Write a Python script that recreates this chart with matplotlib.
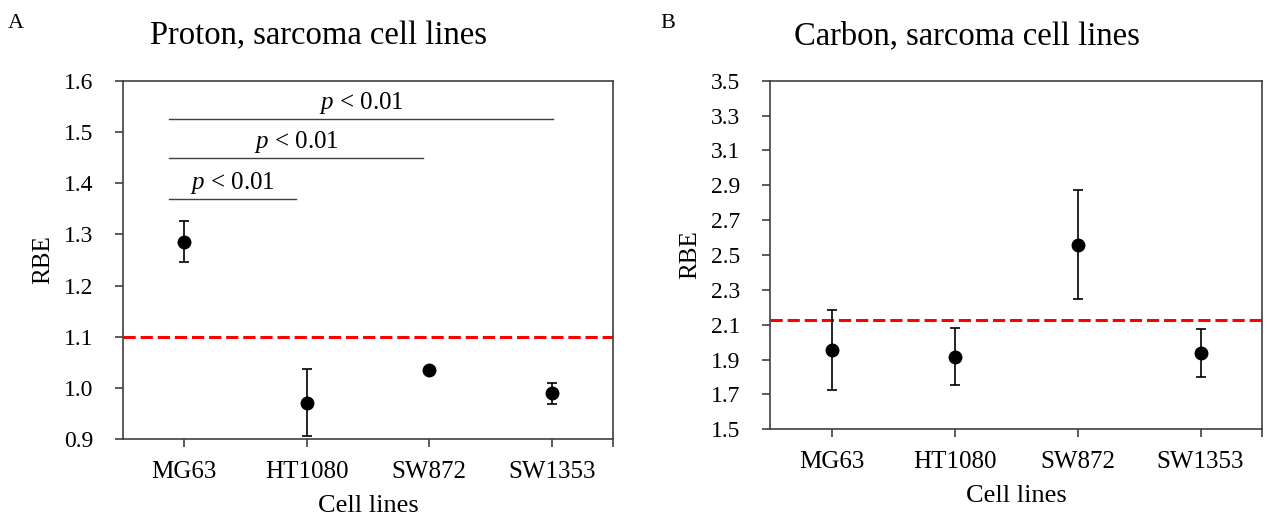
import numpy as np
import matplotlib
matplotlib.use('Agg')
import matplotlib.pyplot as plt

plt.rcParams['font.family'] = ['Liberation Serif', 'DejaVu Serif']
plt.rcParams['mathtext.fontset'] = 'custom'
plt.rcParams['mathtext.it'] = 'Liberation Serif:italic'
plt.rcParams['mathtext.rm'] = 'Liberation Serif'

cell_lines = ['MG63', 'HT1080', 'SW872', 'SW1353']

# proton RBE (panel A)
proton_rbe = [1.286, 0.971, 1.035, 0.989]
proton_err = [0.040, 0.065, 0.004, 0.020]
proton_ref = 1.1

# carbon RBE (panel B)
carbon_rbe = [1.955, 1.917, 2.560, 1.936]
carbon_err = [0.230, 0.162, 0.315, 0.138]
carbon_ref = 2.13

# significance bars: (start, end, height)
sig_start = [0.875, 0.875, 0.875]
sig_end = [1.91, 2.95, 4.01]
sig_y = [1.37, 1.45, 1.526]
sig_text = r'$p$ < 0.01'

spine_col = '#404040'

fig = plt.figure(figsize=(12.69, 5.2), dpi=100)
axA = fig.add_axes([0.0969, 0.1558, 0.3862, 0.6885])
axB = fig.add_axes([0.6068, 0.1744, 0.3877, 0.6704])

x = np.arange(1, len(cell_lines) + 1)


def style(ax, ylim, yticks, fmt):
    ax.set_xlim(0.5, 4.5)
    ax.set_ylim(*ylim)
    ax.set_yticks(yticks)
    ax.set_yticklabels([fmt % v for v in yticks])
    ax.set_xticks(x)
    ax.set_xticklabels(cell_lines)
    ax.set_xticks([4.5], minor=True)
    ax.tick_params(which='both', direction='out', length=5.5, width=1.2,
                   color=spine_col)
    ax.tick_params(axis='y', labelsize=17, pad=16)
    ax.tick_params(axis='x', which='major', labelsize=18, pad=10)
    for s in ax.spines.values():
        s.set_color(spine_col)
        s.set_linewidth(1.2)
    ax.set_ylabel('RBE', fontsize=18, labelpad=7)
    ax.set_xlabel('Cell lines', fontsize=19, labelpad=9)


# panel A
axA.errorbar(x, proton_rbe, yerr=proton_err, fmt='o', color='black',
             ms=9, capsize=3.5, elinewidth=1.2, capthick=1.2, zorder=3)
axA.axhline(proton_ref, color='#ff0000', lw=2.2, ls=(0, (4, 1.6)), zorder=2)
for s0, s1, sy in zip(sig_start, sig_end, sig_y):
    axA.plot([s0, s1], [sy, sy], color=spine_col, lw=1.0)
    axA.text((s0 + s1) / 2, sy + 0.006, sig_text, ha='center', va='bottom',
             fontsize=18)
style(axA, (0.9, 1.6), np.arange(0.9, 1.61, 0.1), '%.1f')

# panel B
axB.errorbar(x, carbon_rbe, yerr=carbon_err, fmt='o', color='black',
             ms=9, capsize=3.5, elinewidth=1.2, capthick=1.2, zorder=3)
axB.axhline(carbon_ref, color='#ff0000', lw=2.2, ls=(0, (4, 1.6)), zorder=2)
style(axB, (1.5, 3.5), np.arange(1.5, 3.51, 0.2), '%.1f')

fig.text(0.251, 0.931, 'Proton, sarcoma cell lines', ha='center', va='center',
         fontsize=23.5)
fig.text(0.762, 0.931, 'Carbon, sarcoma cell lines', ha='center', va='center',
         fontsize=23.5)
fig.text(0.006, 0.955, 'A', fontsize=16, va='center')
fig.text(0.520, 0.955, 'B', fontsize=16, va='center')

fig.savefig('out.png', dpi=100)
